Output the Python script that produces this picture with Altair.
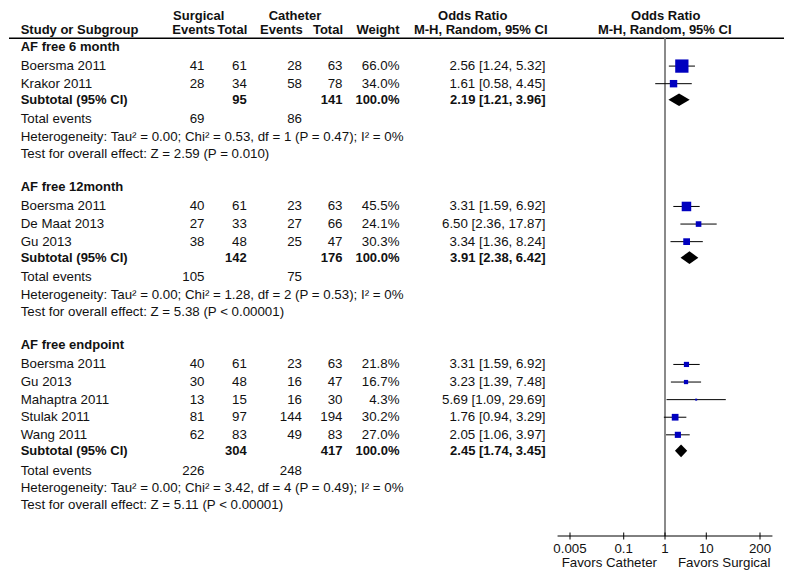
import altair as alt
import pandas as pd

# ---------------- data ----------------
groups = ["AF free 6 month", "AF free 12month", "AF free endpoint"]
study_group = [0, 0, 1, 1, 1, 2, 2, 2, 2, 2]
studies = ["Boersma 2011", "Krakor 2011", "Boersma 2011", "De Maat 2013", "Gu 2013",
           "Boersma 2011", "Gu 2013", "Mahaptra 2011", "Stulak 2011", "Wang 2011"]
surg_events = [41, 28, 40, 27, 38, 40, 30, 13, 81, 62]
surg_total = [61, 34, 61, 33, 48, 61, 48, 15, 97, 83]
cath_events = [28, 58, 23, 27, 25, 23, 16, 16, 144, 49]
cath_total = [63, 78, 63, 66, 47, 63, 47, 30, 194, 83]
weights = [66.0, 34.0, 45.5, 24.1, 30.3, 21.8, 16.7, 4.3, 30.2, 27.0]
odds = [2.56, 1.61, 3.31, 6.50, 3.34, 3.31, 3.23, 5.69, 1.76, 2.05]
ci_lo = [1.24, 0.58, 1.59, 2.36, 1.36, 1.59, 1.39, 1.09, 0.94, 1.06]
ci_hi = [5.32, 4.45, 6.92, 17.87, 8.24, 6.92, 7.48, 29.69, 3.29, 3.97]

sub_surg_total = [95, 142, 304]
sub_cath_total = [141, 176, 417]
sub_or = [2.19, 3.91, 2.45]
sub_lo = [1.21, 2.38, 1.74]
sub_hi = [3.96, 6.42, 3.45]
tot_surg_events = [69, 105, 226]
tot_cath_events = [86, 75, 248]
het_tau2 = ["0.00", "0.00", "0.00"]
het_chi2 = ["0.53", "1.28", "3.42"]
het_df = [1, 2, 4]
het_p = ["0.47", "0.53", "0.49"]
het_i2 = ["0%", "0%", "0%"]
eff_z = ["2.59", "5.38", "5.11"]
eff_p = ["= 0.010", "< 0.00001", "< 0.00001"]

axis_ticks = [0.005, 0.1, 1, 10, 200]
axis_labels = ["0.005", "0.1", "1", "10", "200"]
favors = ["Favors Catheter", "Favors Surgical"]

# ---------------- layout (page pixel positions) ----------------
W, H = 778, 562
X_NAME, X_SE, X_ST, X_CE, X_CT, X_W, X_OR = 20.7, 204.5, 246.8, 302, 342.5, 399.5, 545.5
Y_H1, Y_H2, Y_RULE, Y_AXIS = 15.5, 30.3, 38.3, 536
Y_FIRST = 47
SC = 0.9886  # vertical compression of row gaps
FONT = "Liberation Sans"
FS = 13.3
FS_BOLD = 13

xpix = alt.Scale(domain=[8, 8 + W], range=[0, W], nice=False, zero=False)
yscale = alt.Scale(domain=[8, 8 + H], reverse=True, nice=False, zero=False)
xlog = alt.Scale(type="log", domain=[0.005, 200], range=[562, 752], nice=False)

texts = []


def t(x, y, s, align="left", bold=False):
    texts.append(dict(xp=x, yp=y, label=str(s), al=align, bw=bold))


# headers
t(198.7, Y_H1, "Surgical", "center", True)
t(295, Y_H1, "Catheter", "center", True)
t(472.7, Y_H1, "Odds Ratio", "center", True)
t(665.7, Y_H1, "Odds Ratio", "center", True)
t(X_NAME, Y_H2, "Study or Subgroup", "left", True)
t(215, Y_H2, "Events", "right", True)
t(247.3, Y_H2, "Total", "right", True)
t(302.7, Y_H2, "Events", "right", True)
t(343, Y_H2, "Total", "right", True)
t(399.5, Y_H2, "Weight", "right", True)
t(480.7, Y_H2, "M-H, Random, 95% CI", "center", True)
t(664.7, Y_H2, "M-H, Random, 95% CI", "center", True)

study_rows, sub_rows = [], []
y = Y_FIRST
for g, gname in enumerate(groups):
    t(X_NAME, y, gname, "left", True)
    y += 19.3 * SC
    idxs = [i for i, sg in enumerate(study_group) if sg == g]
    for k, i in enumerate(idxs):
        if k > 0:
            y += 17.8 * SC
        t(X_NAME, y, studies[i])
        t(X_SE, y, surg_events[i], "right")
        t(X_ST, y, surg_total[i], "right")
        t(X_CE, y, cath_events[i], "right")
        t(X_CT, y, cath_total[i], "right")
        t(X_W, y, f"{weights[i]:.1f}%", "right")
        t(X_OR, y, f"{odds[i]:.2f} [{ci_lo[i]:.2f}, {ci_hi[i]:.2f}]", "right")
        side = 1.2 + 0.183 * weights[i]
        study_rows.append(dict(y=y, est=odds[i], lo=ci_lo[i], hi=ci_hi[i], size=side * side))
    y += 16.2 * SC
    t(X_NAME, y, "Subtotal (95% CI)", "left", True)
    t(X_ST, y, sub_surg_total[g], "right", True)
    t(X_CT, y, sub_cath_total[g], "right", True)
    t(X_W, y, "100.0%", "right", True)
    t(X_OR, y, f"{sub_or[g]:.2f} [{sub_lo[g]:.2f}, {sub_hi[g]:.2f}]", "right", True)
    hh = 6.3
    sub_rows += [dict(g=g, x=sub_lo[g], ya=y, yb=y),
                 dict(g=g, x=sub_or[g], ya=y - hh, yb=y + hh),
                 dict(g=g, x=sub_hi[g], ya=y, yb=y)]
    y += 20 * SC
    t(X_NAME, y, "Total events")
    t(X_SE, y, tot_surg_events[g], "right")
    t(X_CE, y, tot_cath_events[g], "right")
    y += 17.5 * SC
    t(X_NAME, y, f"Heterogeneity: Tau\u00b2 = {het_tau2[g]}; Chi\u00b2 = {het_chi2[g]}, "
                 f"df = {het_df[g]} (P = {het_p[g]}); I\u00b2 = {het_i2[g]}")
    y += 17.6 * SC
    t(X_NAME, y, f"Test for overall effect: Z = {eff_z[g]} (P {eff_p[g]})")
    y += 33.6 * SC

t(657, 563, favors[0], "right")
t(678, 563, favors[1], "left")

df_text = pd.DataFrame(texts)
df_study = pd.DataFrame(study_rows)
df_sub = pd.DataFrame(sub_rows)

Y = alt.Y("y:Q", scale=yscale, axis=None)

layers = []
for align in ["left", "right", "center"]:
    for bold in [False, True]:
        sub = df_text[(df_text.al == align) & (df_text.bw == bold)][["xp", "yp", "label"]]
        if len(sub) == 0:
            continue
        layers.append(
            alt.Chart(sub).mark_text(align=align, baseline="middle", font=FONT,
                                     fontSize=FS_BOLD if bold else FS,
                                     fontWeight="bold" if bold else "normal", color="#111111")
            .encode(x=alt.X("xp:Q", scale=xpix, axis=None),
                    y=alt.Y("yp:Q", scale=yscale, axis=None),
                    text=alt.Text("label:N"))
        )

# header underline
rule_df = pd.DataFrame({"x": [9], "x2": [784], "y": [Y_RULE]})
layers.append(alt.Chart(rule_df).mark_rule(color="#000000", strokeWidth=1.5).encode(
    x=alt.X("x:Q", scale=xpix, axis=None), x2="x2:Q", y=Y))

# null line at OR = 1
null_df = pd.DataFrame({"x": [1], "y": [Y_RULE], "y2": [Y_AXIS]})
layers.append(alt.Chart(null_df).mark_rule(color="#8a8a8a", strokeWidth=2).encode(
    x=alt.X("x:Q", scale=xlog, axis=None), y=Y, y2="y2:Q"))

# forest axis line and ticks
ax_df = pd.DataFrame({"x": [axis_ticks[0] / 2], "x2": [axis_ticks[-1] * 2], "y": [Y_AXIS]})
layers.append(alt.Chart(ax_df).mark_rule(color="#000000", strokeWidth=1).encode(
    x=alt.X("x:Q", scale=xlog, axis=None), x2="x2:Q", y=Y))
tick_df = pd.DataFrame({"x": axis_ticks, "lab": axis_labels,
                        "y": [Y_AXIS - 3.5] * len(axis_ticks), "y2": [Y_AXIS + 3.5] * len(axis_ticks),
                        "ly": [549] * len(axis_ticks)})
layers.append(alt.Chart(tick_df).mark_rule(color="#000000", strokeWidth=1).encode(
    x=alt.X("x:Q", scale=xlog, axis=None), y=Y, y2="y2:Q"))
layers.append(alt.Chart(tick_df).mark_text(baseline="middle", font=FONT, fontSize=FS, color="#111111").encode(
    x=alt.X("x:Q", scale=xlog, axis=None), y=alt.Y("ly:Q", scale=yscale, axis=None), text=alt.Text("lab:N")))

# whiskers
layers.append(alt.Chart(df_study).mark_rule(color="#000000", strokeWidth=1).encode(
    x=alt.X("lo:Q", scale=xlog, axis=None), x2="hi:Q", y=Y))
# squares
layers.append(alt.Chart(df_study).mark_square(color="#0000bf", opacity=1, filled=True).encode(
    x=alt.X("est:Q", scale=xlog, axis=None), y=Y, size=alt.Size("size:Q", scale=None, legend=None)))
# diamonds
layers.append(alt.Chart(df_sub).mark_area(color="#000000", orient="vertical", opacity=1).encode(
    x=alt.X("x:Q", scale=xlog, axis=None), y=alt.Y("ya:Q", scale=yscale, axis=None), y2="yb:Q",
    detail="g:N"))

chart = alt.layer(*layers).resolve_scale(x="independent").properties(
    width=W, height=H, padding=0, autosize=alt.AutoSizeParams(type="none")
).configure_view(stroke=None)

chart.save("out.html", embed_options={"renderer": "svg", "actions": False})
